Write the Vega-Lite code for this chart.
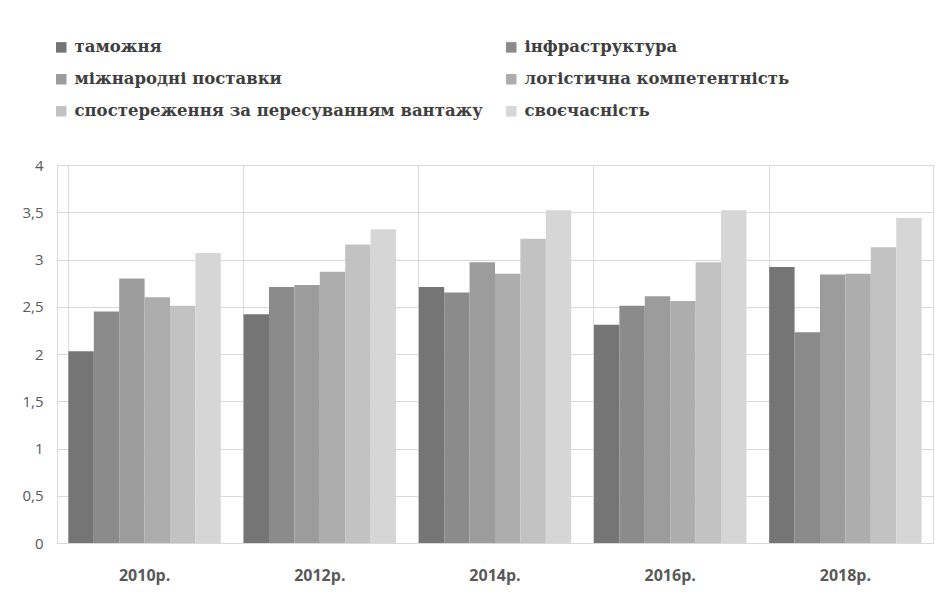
{
  "$schema": "https://vega.github.io/schema/vega-lite/v6.json",
  "autosize": "none",
  "width": 876,
  "height": 378,
  "padding": {"left": 57, "top": 165, "right": 15, "bottom": 51},
  "background": "white",
  "config": {
    "view": {"stroke": "#d9d9d9", "strokeWidth": 1}
  },
  "data": {
    "values": [
      {"year": "2010р.", "indicator": "таможня", "value": 2.03},
      {"year": "2010р.", "indicator": "інфраструктура", "value": 2.45},
      {"year": "2010р.", "indicator": "міжнародні поставки", "value": 2.8},
      {"year": "2010р.", "indicator": "логістична компетентність", "value": 2.6},
      {"year": "2010р.", "indicator": "спостереження за пересуванням вантажу", "value": 2.51},
      {"year": "2010р.", "indicator": "своєчасність", "value": 3.07},
      {"year": "2012р.", "indicator": "таможня", "value": 2.42},
      {"year": "2012р.", "indicator": "інфраструктура", "value": 2.71},
      {"year": "2012р.", "indicator": "міжнародні поставки", "value": 2.73},
      {"year": "2012р.", "indicator": "логістична компетентність", "value": 2.87},
      {"year": "2012р.", "indicator": "спостереження за пересуванням вантажу", "value": 3.16},
      {"year": "2012р.", "indicator": "своєчасність", "value": 3.32},
      {"year": "2014р.", "indicator": "таможня", "value": 2.71},
      {"year": "2014р.", "indicator": "інфраструктура", "value": 2.65},
      {"year": "2014р.", "indicator": "міжнародні поставки", "value": 2.97},
      {"year": "2014р.", "indicator": "логістична компетентність", "value": 2.85},
      {"year": "2014р.", "indicator": "спостереження за пересуванням вантажу", "value": 3.22},
      {"year": "2014р.", "indicator": "своєчасність", "value": 3.52},
      {"year": "2016р.", "indicator": "таможня", "value": 2.31},
      {"year": "2016р.", "indicator": "інфраструктура", "value": 2.51},
      {"year": "2016р.", "indicator": "міжнародні поставки", "value": 2.61},
      {"year": "2016р.", "indicator": "логістична компетентність", "value": 2.56},
      {"year": "2016р.", "indicator": "спостереження за пересуванням вантажу", "value": 2.97},
      {"year": "2016р.", "indicator": "своєчасність", "value": 3.52},
      {"year": "2018р.", "indicator": "таможня", "value": 2.92},
      {"year": "2018р.", "indicator": "інфраструктура", "value": 2.23},
      {"year": "2018р.", "indicator": "міжнародні поставки", "value": 2.84},
      {"year": "2018р.", "indicator": "логістична компетентність", "value": 2.85},
      {"year": "2018р.", "indicator": "спостереження за пересуванням вантажу", "value": 3.13},
      {"year": "2018р.", "indicator": "своєчасність", "value": 3.44}
    ]
  },
  "mark": {"type": "bar"},
  "encoding": {
    "x": {
      "field": "year",
      "type": "nominal",
      "sort": null,
      "title": null,
      "scale": {"paddingInner": 0.13, "paddingOuter": 0.065},
      "axis": {
        "labelAngle": 0,
        "labelFont": "Open Sans",
        "labelFontSize": 16,
        "labelFontWeight": "bold",
        "labelColor": "#595959",
        "labelPadding": 24,
        "domain": false,
        "ticks": false,
        "grid": true,
        "gridColor": "#d9d9d9",
        "bandPosition": 0
      }
    },
    "xOffset": {
      "field": "indicator",
      "type": "nominal",
      "sort": ["таможня", "інфраструктура", "міжнародні поставки", "логістична компетентність", "спостереження за пересуванням вантажу", "своєчасність"],
      "scale": {"paddingInner": 0, "paddingOuter": 0}
    },
    "y": {
      "field": "value",
      "type": "quantitative",
      "title": null,
      "scale": {"domain": [0, 4]},
      "axis": {
        "values": [0, 0.5, 1, 1.5, 2, 2.5, 3, 3.5, 4],
        "labelExpr": "replace(format(datum.value, '~g'), '.', ',')",
        "labelFont": "Open Sans",
        "labelFontSize": 15,
        "labelColor": "#595959",
        "labelPadding": 14,
        "domain": false,
        "ticks": false,
        "gridColor": "#d9d9d9"
      }
    },
    "color": {
      "field": "indicator",
      "type": "nominal",
      "sort": ["таможня", "інфраструктура", "міжнародні поставки", "логістична компетентність", "спостереження за пересуванням вантажу", "своєчасність"],
      "scale": {"range": ["#757575", "#8b8b8b", "#9c9c9c", "#adadad", "#c2c2c2", "#d6d6d6"]},
      "legend": {
        "title": null,
        "orient": "none",
        "legendX": -4,
        "legendY": -126,
        "padding": 0,
        "direction": "horizontal",
        "columns": 2,
        "columnPadding": 20,
        "rowPadding": 15,
        "symbolType": "square",
        "symbolSize": 110,
        "symbolStrokeWidth": 0,
        "labelFont": "DejaVu Serif",
        "labelFontSize": 16.5,
        "labelFontWeight": "bold",
        "labelColor": "#3f3f3f",
        "labelLimit": 500,
        "labelOffset": 5
      }
    }
  }
}
